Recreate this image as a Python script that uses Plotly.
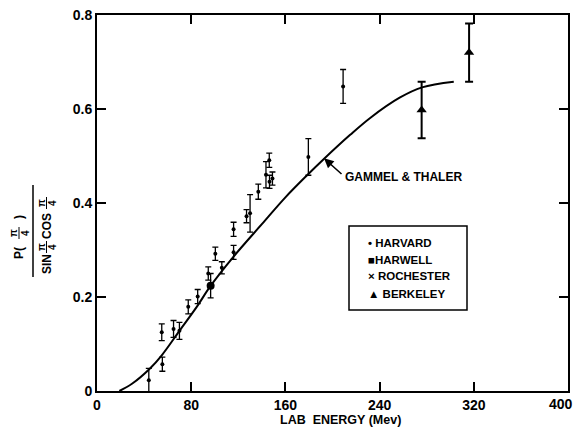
import plotly.graph_objects as go

# ---- data ----
harvard_E = [44, 55.5, 55, 65, 70, 77.5, 85.5, 94.5, 100.5, 106, 116, 116, 127, 130, 137, 143.5, 146.3, 146.5, 149]
harvard_v = [0.023, 0.057, 0.125, 0.132, 0.128, 0.179, 0.201, 0.250, 0.292, 0.262, 0.295, 0.344, 0.372, 0.378, 0.424, 0.460, 0.491, 0.445, 0.452]
harvard_err = [0.025, 0.015, 0.018, 0.018, 0.018, 0.015, 0.015, 0.014, 0.014, 0.013, 0.015, 0.015, 0.014, 0.040, 0.016, 0.028, 0.015, 0.014, 0.014]

harwell_E = [96.5]
harwell_v = [0.224]
harwell_err = [0.026]

rochester_E = [179.5, 209]
rochester_v = [0.498, 0.648]
rochester_err = [0.039, 0.036]

berkeley_E = [275.7, 316]
berkeley_v = [0.598, 0.720]
berkeley_err = [0.060, 0.062]

theory_E = [19, 30, 45, 55, 70, 85, 96, 116, 140, 160, 178, 192, 215, 232, 257, 276, 303]
theory_v = [0.0, 0.016, 0.048, 0.076, 0.128, 0.180, 0.222, 0.286, 0.355, 0.412, 0.458, 0.492, 0.545, 0.581, 0.624, 0.646, 0.658]

x_ticks = [0, 80, 160, 240, 320, 400]
x_ticktext = ["0", "80", "160", "240", "320", ""]
x_last_label = "400"
y_ticks = [0, 0.2, 0.4, 0.6, 0.8]
y_ticktext = ["0", "0.2", "0.4", "0.6", "0.8"]

legend_labels = ["\u2022 HARVARD", "\u25A0HARWELL", "\u00D7 ROCHESTER", "\u25B2 BERKELEY"]

# ---- layout geometry (pixels) ----
W, H = 576, 427
L, R, T, B = 97, 8, 15, 36
PW, PH = W - L - R, H - T - B


def px(x):
    return (x - L) / PW


def py(y):
    return (H - B - y) / PH


FONT = "Liberation Sans"

fig = go.Figure()

fig.add_trace(go.Scatter(x=theory_E, y=theory_v, mode="lines", line=dict(color="black", width=2, shape="spline"),
                         showlegend=False, hoverinfo="skip"))


def err(vals):
    return dict(type="data", array=vals, visible=True, color="black", thickness=1.3, width=3)


fig.add_trace(go.Scatter(x=harvard_E, y=harvard_v, mode="markers", name="HARVARD",
                         marker=dict(symbol="circle", size=4, color="black"),
                         error_y=err(harvard_err), showlegend=False))
fig.add_trace(go.Scatter(x=harwell_E, y=harwell_v, mode="markers", name="HARWELL",
                         marker=dict(symbol="circle", size=8, color="black"),
                         error_y=err(harwell_err), showlegend=False))
fig.add_trace(go.Scatter(x=rochester_E, y=rochester_v, mode="markers", name="ROCHESTER",
                         marker=dict(symbol="circle", size=4, color="black"),
                         error_y=err(rochester_err), showlegend=False))
fig.add_trace(go.Scatter(x=berkeley_E, y=berkeley_v, mode="markers", name="BERKELEY",
                         marker=dict(symbol="triangle-up", size=9, color="black"),
                         error_y=dict(type="data", array=berkeley_err, visible=True, color="black", thickness=2, width=4),
                         showlegend=False))

tickfont = dict(family=FONT, size=14, color="black", weight="bold")
axis_common = dict(showgrid=False, zeroline=False, showline=True, linecolor="black", linewidth=2,
                   mirror="ticks", ticks="inside", ticklen=9, tickwidth=1.5, tickcolor="black",
                   tickfont=tickfont)

fig.update_xaxes(range=[0, 400], tickvals=x_ticks, ticktext=x_ticktext, **axis_common)
fig.update_yaxes(range=[0, 0.8], tickvals=y_ticks, ticktext=y_ticktext, **axis_common)


def A(x, y, text, font, xanchor="center", angle=0):
    return dict(x=px(x), y=py(y), xref="paper", yref="paper", text=text, showarrow=False,
                xanchor=xanchor, yanchor="middle", textangle=angle, font=font)


ann = []
# last x tick label (drawn slightly inward as in the reference)
ann.append(A(561, 404, x_last_label, tickfont))
# x axis title
ann.append(A(340, 420, "LAB  ENERGY (Mev)", dict(family=FONT, size=12.5, color="black", weight="bold")))

# curve label + arrow
ann.append(A(343, 177, "GAMMEL & THALER", dict(family=FONT, size=12, color="black", weight="bold"), xanchor="left"))
ann.append(dict(x=192.8, y=0.495, xref="x", yref="y", text="", showarrow=True, ax=19, ay=17,
                arrowhead=2, arrowsize=1.2, arrowwidth=1.6, arrowcolor="black"))

# legend box entries
legend_y = [243, 260, 276, 294]
lf = dict(family=FONT, size=11.5, color="black", weight="bold")
for lab, yy in zip(legend_labels, legend_y):
    ann.append(A(366, yy, lab, lf, xanchor="left"))

# y-axis title as rotated fraction
yf = dict(family=FONT, size=12, color="black", weight="bold")
yfs = dict(family=FONT, size=10, color="black", weight="bold")
# numerator: P( pi/4 )
ann.append(A(19, 253, "P(", yf, angle=-90))
ann.append(A(13, 233, "\u03C0", yfs, angle=-90))
ann.append(A(25, 233, "4", yfs, angle=-90))
ann.append(A(19, 217, ")", yf, angle=-90))
# denominator: SIN pi/4 COS pi/4
ann.append(A(47, 264, "SIN", yf, angle=-90))
ann.append(A(41, 247, "\u03C0", yfs, angle=-90))
ann.append(A(52, 247, "4", yfs, angle=-90))
ann.append(A(47, 226, "COS", yf, angle=-90))
ann.append(A(41, 203, "\u03C0", yfs, angle=-90))
ann.append(A(52, 203, "4", yfs, angle=-90))

shapes = [
    # legend box
    dict(type="rect", xref="paper", yref="paper", x0=px(349), x1=px(467), y0=py(310), y1=py(226),
         line=dict(color="black", width=1.5), fillcolor="white", layer="below"),
    # main fraction bar
    dict(type="line", xref="paper", yref="paper", x0=px(33), x1=px(33), y0=py(277), y1=py(185),
         line=dict(color="black", width=1.5)),
    # small fraction bars
    dict(type="line", xref="paper", yref="paper", x0=px(19), x1=px(19), y0=py(239), y1=py(227),
         line=dict(color="black", width=1)),
    dict(type="line", xref="paper", yref="paper", x0=px(46.5), x1=px(46.5), y0=py(253), y1=py(241),
         line=dict(color="black", width=1)),
    dict(type="line", xref="paper", yref="paper", x0=px(46.5), x1=px(46.5), y0=py(209), y1=py(197),
         line=dict(color="black", width=1)),
]

fig.update_layout(width=W, height=H, margin=dict(l=L, r=R, t=T, b=B, autoexpand=False),
                  paper_bgcolor="white", plot_bgcolor="white", showlegend=False,
                  annotations=ann, shapes=shapes, font=dict(family=FONT, color="black"))

fig.write_html("out.html")
